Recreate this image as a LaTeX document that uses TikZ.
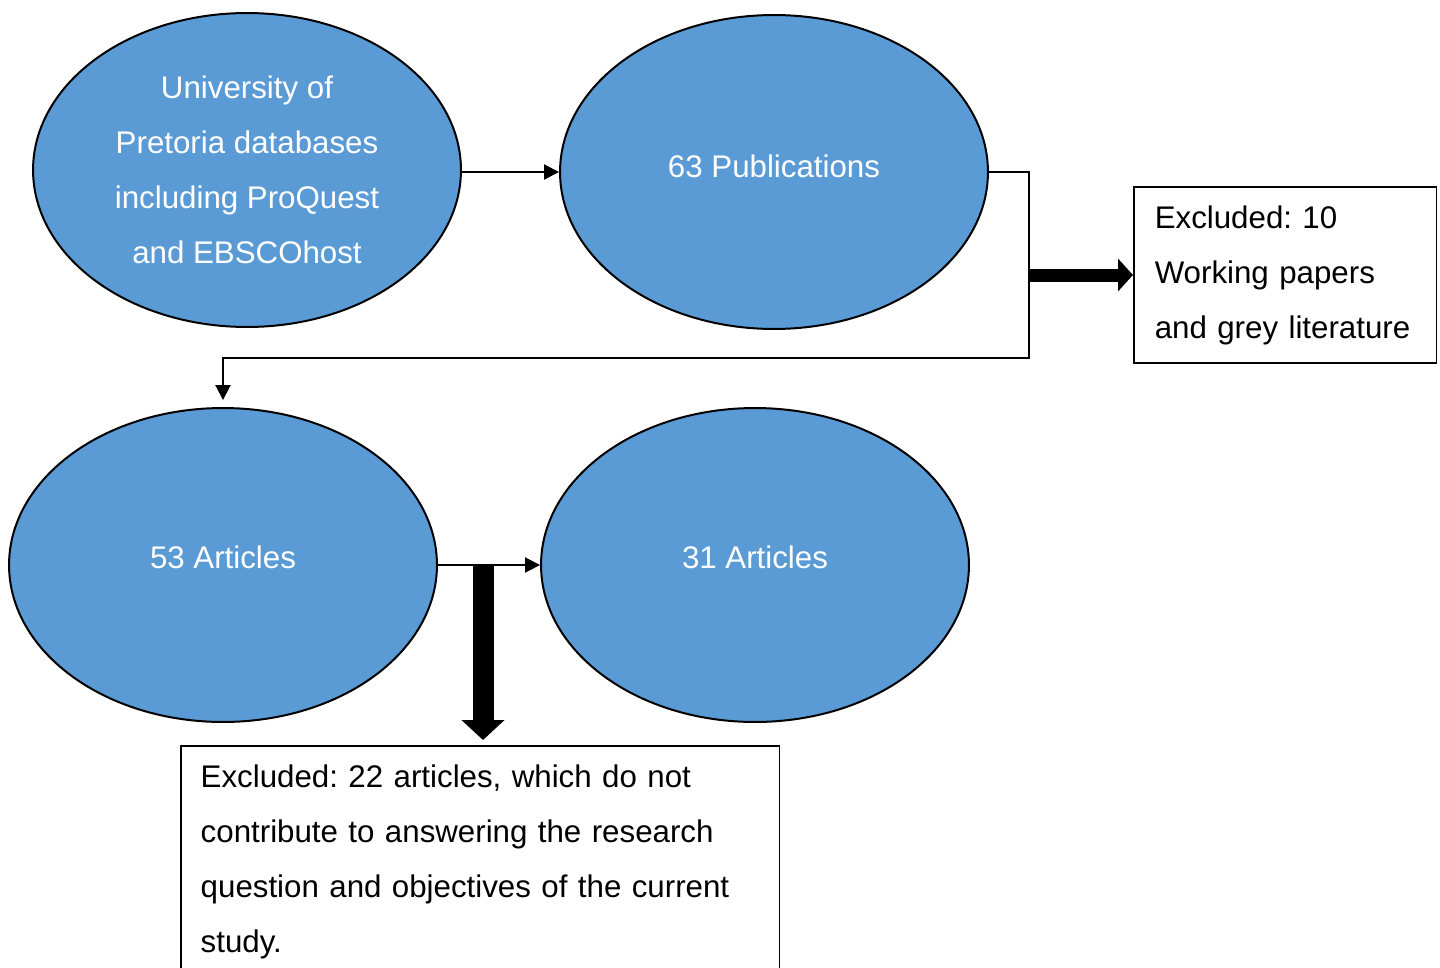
\documentclass[tikz,border=0pt]{standalone}
\usepackage{fontspec}
\setmainfont{Liberation Sans}
\usetikzlibrary{shapes.geometric,arrows.meta}
\definecolor{ovalblue}{HTML}{5B9BD5}
\frenchspacing
\tikzset{
  oval/.style={ellipse,draw=black,line width=0.04cm,fill=ovalblue,text=white,
    minimum width=8.56cm,minimum height=6.28cm,inner sep=0pt,align=center},
  exclbox/.style={draw=black,line width=0.03cm,align=left,inner xsep=0.42cm},
  flowarrow/.style={-{Triangle[length=0.3cm,width=0.3cm]},line width=0.04cm},
  fatarrow/.style={-{Triangle[length=0.3cm,width=0.64cm]},line width=0.26cm},
  droparrow/.style={-{Triangle[length=0.4cm,width=0.84cm]},line width=0.42cm,shorten >=0.1cm}
}
\begin{document}
\begin{tikzpicture}[x=0.02cm,y=-0.02cm,font=\fontsize{17.8pt}{31.3pt}\selectfont]
  \useasboundingbox (0,0) rectangle (1440,967);
  % Ovals
  \node[oval] (source) at (247,170) {University of\\Pretoria databases\\including ProQuest\\and EBSCOhost};
  \node[oval,text depth=0.24cm] (found) at (774,172) {63 Publications};
  \node[oval,text depth=0.3cm] (kept) at (223,565) {53 Articles};
  \node[oval,text depth=0.3cm] (final) at (755,565) {31 Articles};
  % Exclusion boxes
  \node[exclbox,text width=5.22cm,minimum height=3.52cm,anchor=west] (greylit) at (1133,275)
    {Excluded: 10\\Working papers\\and grey literature};
  \node[exclbox,inner xsep=0.4cm,text width=11.18cm,inner ysep=0.38cm,anchor=north west] (offtopic) at (180,745)
    {Excluded: 22 articles, which do not\\contribute to answering the research\\question and objectives of the current\\study.};
  % Connectors
  \coordinate (bend) at (1029,358);
  \coordinate (split) at (1029,275);
  \coordinate (drop) at (483,565);
  \draw[flowarrow] (source.east |- found) -- (found);
  \draw[flowarrow,shorten >=0.14cm] (found.east) -| (bend) -| (kept.north);
  \draw[flowarrow] (kept) -- (final);
  \draw[fatarrow] (split) -- (greylit.west);
  \draw[droparrow] (drop) -- (drop |- offtopic.north);
\end{tikzpicture}
\end{document}
